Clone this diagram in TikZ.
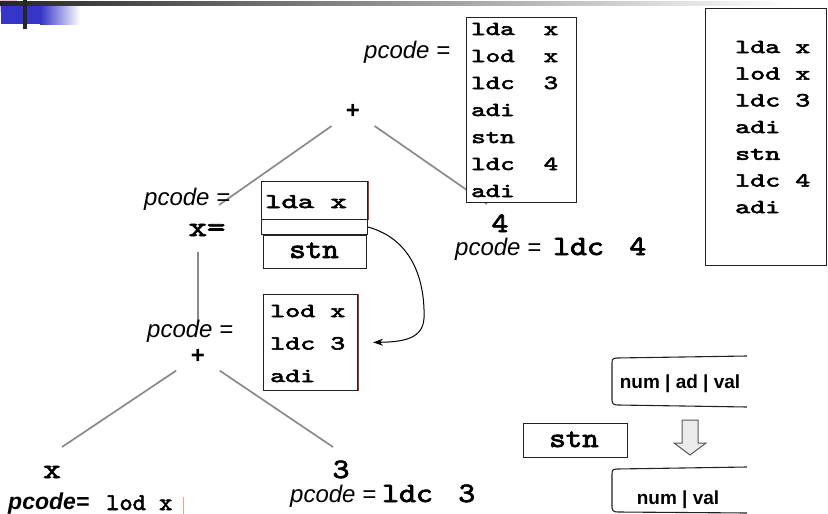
\documentclass[tikz,border=0pt]{standalone}
\usepackage{fontspec}
\usepackage{graphicx}
\usetikzlibrary{arrows.meta}
\newfontfamily\arialfont{Liberation Sans}
\newfontfamily\codefont{lmmono10-regular.otf}[FakeBold=2.5]
\newcommand\wide[2]{\scalebox{#1}[1]{#2}}
\definecolor{treegray}{HTML}{8A8A8A}
\definecolor{boxline}{HTML}{222222}
\definecolor{hdrblue}{HTML}{3535C8}
\definecolor{hdrpink}{HTML}{EEBFBF}
\definecolor{edgered}{HTML}{A03A3A}
\tikzset{
  edge/.style={draw=treegray, line width=1.7pt},
  plusnode/.style={circle, inner sep=0pt, minimum size=52pt,
    font=\arialfont\bfseries\fontsize{24}{24}\selectfont},
  lbl/.style={inner sep=0pt, font=\arialfont\itshape\fontsize{24}{26}\selectfont},
  lblb/.style={inner sep=0pt, font=\arialfont\bfseries\itshape\fontsize{23}{24}\selectfont},
  tapetext/.style={inner sep=0pt, font=\arialfont\bfseries\fontsize{19}{22}\selectfont},
  codebox/.style={draw=boxline, line width=1.1pt, fill=white, inner sep=0pt, anchor=north west},
  csmall/.style={inner sep=0pt, anchor=base west, font=\codefont\fontsize{20}{22}\selectfont},
  cmid/.style={inner sep=0pt, font=\codefont\fontsize{24}{26}\selectfont},
  cbig/.style={inner sep=0pt, font=\codefont\fontsize{28}{30}\selectfont},
  tape/.style={draw=boxline, line width=1.1pt},
  curvearrow/.style={draw=black, line width=1pt, -{Stealth[length=10pt,width=7pt]}},
  blockarrow/.style={draw=black!65, fill=black!8, line width=1pt, line join=miter},
}
\begin{document}
\begin{tikzpicture}[x=1pt,y=-1pt]
\useasboundingbox (0,0) rectangle (828,514);

% slide header ornament
\fill[hdrpink] (0,0) rectangle (17,12);
\fill[hdrblue] (1,5) rectangle (40,24);
\shade[left color=hdrblue, right color=white] (40,5) rectangle (80,24);
\shade[left color=black!85, right color=white] (0,1) rectangle (790,5);
\fill[black!85] (23,0) rectangle (27,29);

% tree nodes
\node[plusnode] (pTop) at (353,111) {+};
\node[cbig, anchor=base] (xeq) at (207,236) {\wide{1.25}{x=}};
\node[cbig, anchor=base] (four) at (500,232) {\wide{1.15}{4}};
\node[plusnode] (pLow) at (198,356) {+};
\node[cbig, anchor=base] (xleaf) at (52,478) {\wide{1.2}{x}};
\node[cbig, anchor=base] (three) at (341,478) {\wide{1.15}{3}};

% tree edges
\coordinate (eTL) at (219,205);
\coordinate (eTR) at (487,204);
\coordinate (eV) at (198,252);
\coordinate (eLL) at (62,447);
\coordinate (eLR) at (333,447);
\draw[edge] (pTop) -- (eTL);
\draw[edge] (pTop) -- (eTR);
\draw[edge, shorten <=7pt] (pLow) -- (eV);
\draw[edge] (pLow) -- (eLL);
\draw[edge] (pLow) -- (eLR);

% attribute labels
\node[lbl, anchor=base west] (pcTop) at (364,58) {pcode =};
\node[lbl, anchor=base west] (pcX) at (144,205) {pcode =};
\node[lbl, anchor=base west] (pcLow) at (147,337) {pcode =};
\node[lbl, anchor=base west] (pcFour) at (455,255) {pcode =};
\node[cbig, anchor=base west] (cFour) at (553,255) {\wide{1.15}{ldc\hspace{0.79em}4}};
\node[lbl, anchor=base west] (pcThree) at (290,502) {pcode =};
\node[cbig, anchor=base west] (cThree) at (382,502) {\wide{1.15}{ldc\hspace{0.79em}3}};
\node[lblb, anchor=base west] (pcXleaf) at (8,509) {pcode=};
\node[cmid, anchor=base west] (cXleaf) at (106,510) {\wide{1.05}{lod x}};
\draw[hdrpink!80!red, line width=1pt] (183,497) -- (183,514);

% code for the whole assignment expression
\node[codebox, minimum width=110pt, minimum height=185pt] (topbox) at (466,17) {};
\foreach \t [count=\i from 0] in {lda~~x,lod~~x,ldc~~3,adi,stn,ldc~~4,adi}
  \node[csmall] (tl\i) at (471,{35+27*\i}) {\wide{1.38}{\t}};

% code attached to x=
\node[codebox, minimum width=106pt, minimum height=38pt] (ldabox) at (261,181) {};
\node[csmall, font=\codefont\fontsize{21}{22}\selectfont] (ldatxt) at (265,208) {\wide{1.48}{lda x}};
\draw[edgered, line width=1.2pt] (ldabox.north east) -- (ldabox.south east);
\node[codebox, minimum width=106pt, minimum height=15pt] (emptybox) at (261,219) {};
\node[codebox, minimum width=103pt, minimum height=33pt] (stnbox) at (263,235) {};
\node[cbig, anchor=base] (stntxt) at (314,258) {\wide{1.12}{stn}};

% code of the inner sum
\node[codebox, minimum width=94pt, minimum height=96pt] (lodbox) at (263,294) {};
\foreach \t [count=\i from 0] in {lod x,ldc 3,adi}
  \node[csmall] (ll\i) at (270,{317+32.5*\i}) {\wide{1.43}{\t}};
\draw[edgered, line width=1pt] (lodbox.north east) -- (lodbox.south east);

\draw[curvearrow, shorten >=15pt] (emptybox.east) .. controls (415,240) and (425,285) .. (424,318)
  .. controls (423,338) and (405,342) .. (lodbox.east);

% complete code sequence
\node[codebox, minimum width=121pt, minimum height=257pt] (sumbox) at (705,8) {};
\foreach \t [count=\i from 0] in {lda x,lod x,ldc 3,adi,stn,ldc 4,adi}
  \node[csmall] (sl\i) at (735,{53+26.7*\i}) {\wide{1.43}{\t}};

% stack effect of stn
\draw[tape] (747,356) -- (617,358) .. controls (612,358) and (612,360) .. (612,364)
  -- (612,400) .. controls (612,404) and (614,405) .. (618,405) -- (747,407);
\node[tapetext, anchor=base] (stackA) at (680,388) {num | ad | val};
\node[codebox, minimum width=104pt, minimum height=34pt] (stnop) at (523,423) {};
\node[cbig, anchor=base] (stnoptxt) at (574,447) {\wide{1.12}{stn}};
\draw[blockarrow] (682,420) -- (698,420) -- (698,443) -- (706,443) -- (690,455)
  -- (674,443) -- (682,443) -- cycle;
\draw[tape] (747,467) -- (617,469) .. controls (612,469) and (612,471) .. (612,475)
  -- (612,507) .. controls (612,511) and (614,512) .. (618,512) -- (747,513);
\node[tapetext, anchor=base] (stackB) at (678,504) {num | val};
\end{tikzpicture}
\end{document}
